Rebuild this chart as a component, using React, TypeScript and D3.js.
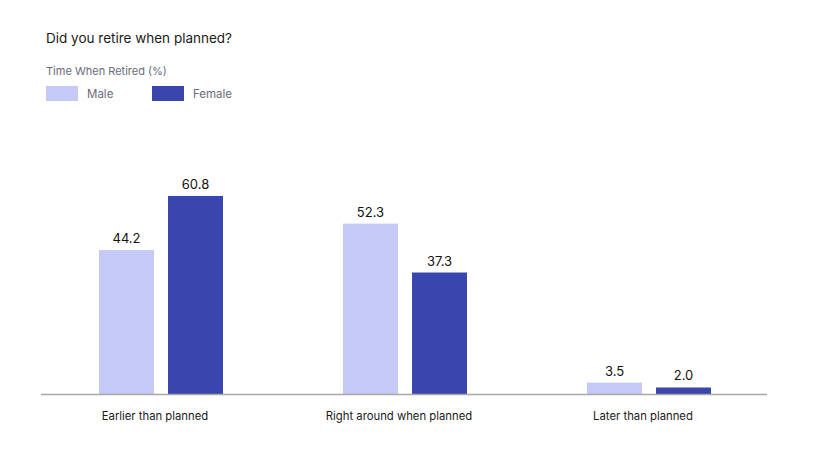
import React from "react";
import * as d3 from "d3";

const categories = ["Earlier than planned", "Right around when planned", "Later than planned"];
const seriesNames = ["Male", "Female"];
const maleValues = [44.2, 52.3, 3.5];
const femaleValues = [60.8, 37.3, 2.0];
const colors = ["#c4c9f8", "#3a45ad"];

export default function App() {
  const W = 814, H = 472;
  const x0 = d3.scaleBand<string>().domain(categories).range([39, 771]).padding(0);
  const y = d3.scaleLinear().domain([0, 70]).range([394, 166]);
  const barW = 55, gap = 14;
  const series = [maleValues, femaleValues];
  const font = "Inter, 'Noto Sans', sans-serif";
  return (
    <svg width={W} height={H} style={{ position: "absolute", left: 0, top: 0 }} fontFamily={font}>
      <rect width={W} height={H} fill="#fff" />
      <text x={46} y={43} fontSize={13.5} fill="#1a1a1a">Did you retire when planned?</text>
      <text x={46} y={75} fontSize={11} fill="#6b6b7b">Time When Retired (%)</text>
      {seriesNames.map((s, i) => {
        const lx = i === 0 ? 46 : 152;
        return (
          <g key={s}>
            <rect x={lx} y={86} width={32} height={15} fill={colors[i]} />
            <text x={lx + 41} y={98} fontSize={11.5} fill="#6b6b7b">{s}</text>
          </g>
        );
      })}
      {categories.map((c, ci) => {
        const cx = (x0(c) as number) + x0.bandwidth() / 2;
        return (
          <g key={c}>
            {series.map((vals, si) => {
              const bx = si === 0 ? cx - gap / 2 - barW : cx + gap / 2;
              const v = vals[ci];
              return (
                <g key={si}>
                  <rect x={bx} y={y(v)} width={barW} height={y(0) - y(v)} fill={colors[si]} />
                  <text x={bx + barW / 2} y={y(v) - 7} textAnchor="middle" fontSize={13} fill="#111">
                    {v.toFixed(1)}
                  </text>
                </g>
              );
            })}
            <text x={cx - 6} y={420} textAnchor="middle" fontSize={11.3} fill="#1a1a1a">{c}</text>
          </g>
        );
      })}
      <line x1={41} x2={767} y1={394.5} y2={394.5} stroke="#a8a8a8" strokeWidth={1.5} />
    </svg>
  );
}
